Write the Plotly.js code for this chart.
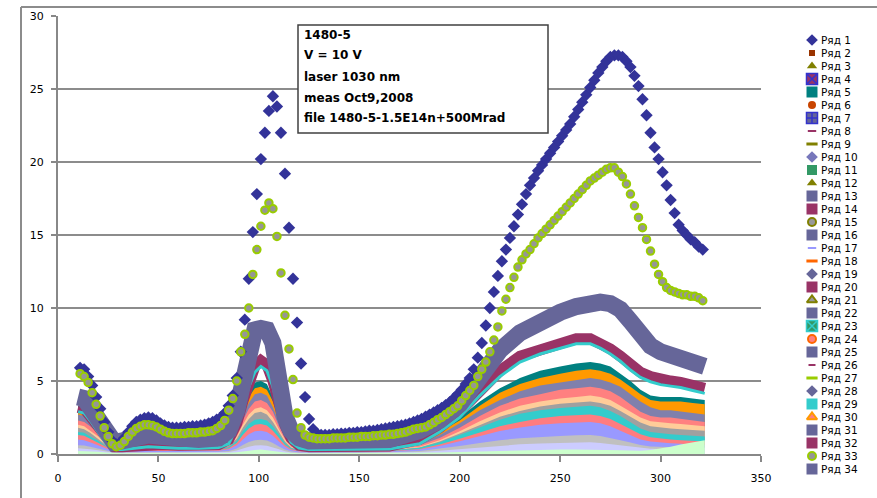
<!DOCTYPE html>
<html><head><meta charset="utf-8">
<script src="https://cdn.plot.ly/plotly-3.0.1.min.js"></script>
<style>html,body{margin:0;padding:0;background:#fff}#chart{width:877px;height:498px}</style>
</head><body><div id="chart"></div>
<script>
// ---------- dense series (markers) ----------
const xDense = [
 11,13,15,17,19,21,23,25,27,29,
 31,33,35,37,39,41,43,45,47,49,
 51,53,55,57,59,61,63,65,67,69,
 71,73,75,77,79,81,83,85,87,89,
 91,93,95,97,99,101,103,105,107,109,
 111,113,115,117,119,121,123,125,127,129,
 131,133,135,137,139,141,143,145,147,149,
 151,153,155,157,159,161,163,165,167,169,
 171,173,175,177,179,181,183,185,187,189,
 191,193,195,197,199,201,203,205,207,209,
 211,213,215,217,219,221,223,225,227,229,
 231,233,235,237,239,241,243,245,247,249,
 251,253,255,257,259,261,263,265,267,269,
 271,273,275,277,279,281,283,285,287,289,
 291,293,295,297,299,301,303,305,307,309,
 311,313,315,317,319,321];
const ryad1 = [
 5.9,5.8,5.3,4.7,3.9,3.1,2.2,1.5,0.9,0.65,
 0.8,1.1,1.5,1.9,2.2,2.35,2.45,2.5,2.45,2.3,
 2.1,1.95,1.85,1.8,1.8,1.8,1.85,1.85,1.9,1.9,
 1.95,2.0,2.1,2.2,2.35,2.5,2.8,3.3,4.0,5.2,
 7.0,9.2,12.0,15.2,17.8,20.2,22.0,23.5,24.5,23.8,
 22.0,19.2,15.5,12.0,9.0,6.2,3.9,2.4,1.7,1.4,
 1.3,1.3,1.3,1.35,1.35,1.4,1.4,1.45,1.45,1.5,
 1.5,1.55,1.6,1.6,1.65,1.7,1.75,1.8,1.85,1.9,
 1.95,2.0,2.1,2.2,2.3,2.4,2.55,2.7,2.85,3.0,
 3.15,3.35,3.55,3.8,4.1,4.4,4.8,5.2,5.8,6.6,
 7.6,8.8,10.0,11.1,12.2,13.2,14.0,14.8,15.6,16.4,
 17.1,17.8,18.4,18.9,19.4,19.8,20.2,20.6,21.0,21.4,
 21.8,22.2,22.6,23.1,23.6,24.1,24.6,25.1,25.6,26.1,
 26.5,26.9,27.2,27.3,27.3,27.2,26.9,26.5,25.9,25.2,
 24.3,23.2,22.0,21.0,20.2,19.3,18.4,17.4,16.5,15.7,
 15.3,15.0,14.7,14.5,14.2,14.0];
const ryad33 = [
 5.5,5.3,4.9,4.2,3.4,2.6,1.8,1.2,0.7,0.5,
 0.6,0.85,1.2,1.5,1.75,1.9,2.0,2.0,1.95,1.85,
 1.7,1.55,1.45,1.4,1.4,1.4,1.4,1.45,1.45,1.45,
 1.5,1.5,1.55,1.6,1.75,1.95,2.3,3.0,3.8,5.0,
 7.0,8.2,10.0,12.3,14.0,15.6,16.7,17.2,16.8,14.9,
 12.4,9.5,7.2,5.1,2.8,1.8,1.3,1.15,1.1,1.05,
 1.05,1.05,1.05,1.1,1.1,1.1,1.1,1.15,1.15,1.15,
 1.2,1.2,1.2,1.25,1.25,1.3,1.3,1.35,1.35,1.4,
 1.45,1.5,1.6,1.7,1.75,1.8,1.85,2.0,2.15,2.35,
 2.5,2.7,2.9,3.1,3.3,3.65,4.0,4.35,4.7,5.3,
 5.8,6.3,7.0,7.8,8.7,9.8,10.6,11.4,12.1,12.8,
 13.3,13.7,14.0,14.4,14.8,15.1,15.4,15.7,16.0,16.3,
 16.6,16.9,17.2,17.5,17.8,18.1,18.4,18.7,18.9,19.1,
 19.3,19.5,19.6,19.6,19.3,19.0,18.5,17.8,17.0,16.2,
 15.5,14.7,13.9,13.0,12.3,11.8,11.4,11.2,11.1,11.0,
 10.9,10.9,10.8,10.8,10.7,10.5];

// ---------- band series (coarse) ----------
const xBand = [10,13,16,20,24,28,32,38,45,52,
 60,70,80,85,89,92,95,98,101,104,
 107,110,113,116,120,125,135,150,165,180,
 190,200,210,220,230,240,250,258,265,270,
 275,280,285,290,295,300,305,310,316,322];
const ryad34 = [3.9,3.8,3.2,2.3,1.4,0.8,0.9,1.1,1.3,1.2,
 1.0,1.0,1.1,1.6,3.0,5.4,7.6,8.5,8.6,8.5,
 7.6,4.6,2.6,1.6,1.1,0.9,0.9,0.9,1.0,1.6,
 2.3,3.4,5.4,7.1,8.3,9.1,9.7,10.1,10.4,10.4,
 10.3,9.9,9.1,8.1,7.4,7.0,6.8,6.7,6.5,6.0];
const ryad32 = [3.2,3.1,2.6,1.8,1.0,0.5,0.5,0.6,0.7,0.65,
 0.6,0.6,0.65,1.0,2.1,3.6,5.0,6.0,6.4,6.1,
 5.0,3.4,2.0,1.1,0.6,0.5,0.5,0.5,0.55,1.0,
 1.8,2.9,4.4,5.7,6.7,7.2,7.6,7.9,7.9,7.6,
 7.2,6.7,6.1,5.6,5.3,5.1,5.0,4.9,4.7,4.5];
const ryad29 = [2.9,2.8,2.3,1.5,0.7,0.3,0.3,0.4,0.5,0.45,
 0.4,0.4,0.45,0.7,1.8,3.2,4.6,5.6,6.0,5.7,
 4.6,3.0,1.6,0.8,0.4,0.3,0.3,0.3,0.35,0.7,
 1.5,2.5,4.0,5.3,6.3,6.85,7.25,7.55,7.55,7.25,
 6.85,6.35,5.75,5.25,4.95,4.75,4.65,4.55,4.35,4.15];
const ryad5 = [3.3,3.2,2.6,1.9,1.1,0.5,0.5,0.6,0.8,0.7,
 0.6,0.6,0.7,0.9,1.9,3.2,4.3,4.9,5.0,4.8,
 3.9,2.6,1.5,0.8,0.5,0.4,0.4,0.4,0.5,0.9,
 1.6,2.5,3.6,4.5,5.2,5.7,6.0,6.2,6.3,6.2,
 6.0,5.5,5.0,4.4,4.0,3.9,3.9,3.9,3.8,3.7];
const ryad30 = [3.0,2.9,2.4,1.7,1.0,0.5,0.5,0.6,0.7,0.6,
 0.6,0.6,0.6,0.9,1.7,2.9,3.9,4.5,4.6,4.4,
 3.6,2.4,1.4,0.8,0.5,0.4,0.4,0.4,0.5,0.8,
 1.5,2.3,3.3,4.2,4.8,5.2,5.5,5.7,5.8,5.7,
 5.5,5.1,4.6,4.1,3.7,3.6,3.6,3.6,3.5,3.4];
const ryad28 = [2.7,2.6,2.2,1.6,0.9,0.4,0.4,0.5,0.6,0.6,
 0.5,0.5,0.6,0.8,1.6,2.6,3.5,4.1,4.2,4.0,
 3.2,2.2,1.2,0.7,0.4,0.4,0.4,0.4,0.4,0.7,
 1.3,2.1,3.0,3.7,4.3,4.7,4.9,5.1,5.2,5.1,
 4.9,4.6,4.1,3.6,3.2,3.0,3.0,2.9,2.8,2.7];
const ryad24 = [2.3,2.2,1.9,1.4,0.8,0.35,0.35,0.45,0.5,0.45,
 0.4,0.4,0.45,0.7,1.4,2.3,3.1,3.6,3.7,3.5,
 2.9,1.9,1.1,0.6,0.35,0.3,0.3,0.3,0.35,0.6,
 1.1,1.8,2.6,3.3,3.8,4.1,4.4,4.5,4.6,4.5,
 4.3,3.9,3.4,2.9,2.6,2.5,2.5,2.4,2.3,2.2];
const ryad18 = [2.0,1.9,1.6,1.2,0.7,0.3,0.3,0.4,0.45,0.4,
 0.35,0.35,0.4,0.6,1.2,2.0,2.7,3.1,3.2,3.0,
 2.5,1.7,1.0,0.5,0.3,0.25,0.25,0.25,0.3,0.5,
 0.95,1.55,2.25,2.85,3.3,3.6,3.8,3.9,4.0,3.9,
 3.7,3.3,2.9,2.5,2.25,2.15,2.1,2.05,2.0,1.9];
const ryad15 = [1.8,1.7,1.45,1.05,0.6,0.28,0.28,0.35,0.4,0.35,
 0.32,0.32,0.35,0.55,1.05,1.8,2.4,2.8,2.9,2.7,
 2.2,1.5,0.85,0.45,0.28,0.22,0.22,0.22,0.26,0.45,
 0.85,1.4,2.0,2.55,2.95,3.25,3.45,3.55,3.6,3.5,
 3.3,2.95,2.55,2.15,1.9,1.8,1.75,1.7,1.65,1.6];
const ryad11 = [1.5,1.45,1.2,0.9,0.5,0.25,0.25,0.3,0.35,0.3,
 0.28,0.28,0.3,0.45,0.9,1.55,2.05,2.35,2.4,2.3,
 1.9,1.3,0.75,0.4,0.25,0.2,0.2,0.2,0.24,0.42,
 0.8,1.3,1.85,2.35,2.75,3.0,3.15,3.25,3.3,3.2,
 2.95,2.6,2.15,1.75,1.5,1.4,1.35,1.3,1.25,1.2];
const ryad20 = [1.3,1.25,1.05,0.75,0.45,0.2,0.2,0.25,0.3,0.27,
 0.25,0.25,0.27,0.4,0.75,1.3,1.75,2.0,2.05,1.95,
 1.6,1.1,0.62,0.35,0.2,0.17,0.17,0.17,0.2,0.35,
 0.65,1.05,1.5,1.9,2.2,2.45,2.6,2.65,2.7,2.6,
 2.4,2.05,1.7,1.35,1.15,1.05,1.0,0.95,0.9,0.85];
const ryad10 = [1.0,0.95,0.8,0.6,0.35,0.17,0.17,0.2,0.22,0.2,
 0.2,0.2,0.22,0.32,0.6,1.0,1.35,1.55,1.6,1.5,
 1.25,0.85,0.5,0.28,0.17,0.14,0.14,0.14,0.17,0.3,
 0.55,0.88,1.25,1.58,1.82,2.0,2.1,2.16,2.2,2.1,
 1.9,1.6,1.3,1.0,0.85,0.78,0.74,0.7,0.66,0.62];
const ryad21 = [0.6,0.58,0.5,0.38,0.24,0.12,0.12,0.14,0.15,0.14,
 0.14,0.14,0.15,0.2,0.38,0.62,0.82,0.95,0.98,0.92,
 0.76,0.52,0.3,0.18,0.11,0.1,0.1,0.1,0.12,0.2,
 0.35,0.55,0.76,0.95,1.08,1.18,1.24,1.28,1.3,1.24,
 1.12,0.95,0.78,0.62,0.52,0.48,0.46,0.44,0.42,0.4];
const ryad17 = [0.4,0.38,0.32,0.25,0.16,0.08,0.08,0.1,0.1,0.1,
 0.1,0.1,0.1,0.13,0.24,0.38,0.5,0.58,0.6,0.56,
 0.46,0.32,0.18,0.11,0.08,0.07,0.07,0.07,0.08,0.13,
 0.22,0.34,0.47,0.58,0.66,0.72,0.76,0.78,0.8,0.76,
 0.68,0.58,0.48,0.4,0.36,0.34,0.34,0.36,0.4,0.45];
const ryad26 = [0.2,0.2,0.18,0.15,0.1,0.05,0.05,0.06,0.06,0.06,
 0.06,0.06,0.06,0.08,0.12,0.18,0.24,0.28,0.3,0.27,
 0.22,0.16,0.1,0.07,0.05,0.05,0.05,0.05,0.05,0.07,
 0.1,0.14,0.18,0.22,0.26,0.28,0.3,0.3,0.3,0.3,
 0.28,0.26,0.24,0.22,0.28,0.38,0.5,0.65,0.8,0.95];

// ---------- ticks, legend, note ----------
const xTickVals = [0,50,100,150,200,250,300,350];
const yTickVals = [0,5,10,15,20,25,30];
const legendNames = ['Ряд 1','Ряд 2','Ряд 3','Ряд 4','Ряд 5','Ряд 6','Ряд 7','Ряд 8','Ряд 9','Ряд 10',
 'Ряд 11','Ряд 12','Ряд 13','Ряд 14','Ряд 15','Ряд 16','Ряд 17','Ряд 18','Ряд 19','Ряд 20',
 'Ряд 21','Ряд 22','Ряд 23','Ряд 24','Ряд 25','Ряд 26','Ряд 27','Ряд 28','Ряд 29','Ряд 30',
 'Ряд 31','Ряд 32','Ряд 33','Ряд 34'];
const noteLines = ['1480-5','V = 10 V','laser 1030 nm','meas Oct9,2008','file 1480-5-1.5E14n+500Mrad'];

// ---------- styles ----------
const legendSymbols = ['diamond','square','triangle-up','square-x','square','circle','square-cross','line-ew','line-ew','diamond',
 'square','triangle-up','square','square','circle','square','line-ew','line-ew','diamond','square',
 'triangle-up','square','square-x','circle','square','line-ew','line-ew','diamond','square','triangle-up',
 'square','square','circle','square'];
const legendFill = ['#333399','#993300','#808000','#993366','#008080','#C84400','#666699','#993366','#808000','#7777BB',
 '#339966','#808000','#666699','#993366','#999999','#666699','#9999FF','#FF6600','#666699','#993366',
 '#999999','#666699','#339966','#FF8080','#666699','#993366','#99CC00','#666699','#33CCCC','#FF8080',
 '#666699','#993366','#969696','#666699'];
const legendLine = ['#333399','#993300','#808000','#3333CC','#008080','#C84400','#3333CC','#993366','#808000','#7777BB',
 '#339966','#808000','#666699','#993366','#808000','#666699','#9999FF','#FF6600','#666699','#993366',
 '#808000','#666699','#33CCCC','#FF6600','#666699','#993366','#99CC00','#666699','#33CCCC','#FF9900',
 '#666699','#993366','#99CC00','#666699'];
const legendLineW = [0,0,0,1.5,0,0,1.5,2,3,0, 0,0,0,0,2,0,2,3,0,0, 2,0,1.5,2,0,2,3,0,0,2, 0,0,2,0];
const legendSize = [9,6,9,11,11,8,11,6,8,9, 10,9,11,11,8,11,6,8,9,11, 9,11,11,8,11,5,8,9,11,9, 11,11,8,11];

// ---------- geometry (pixels of the 877x498 figure) ----------
const W = 877, H = 498;
const PL = 58, PR = 761, PT = 16, PB = 454;   // main plot area
const LX0 = 775;                               // legend strip start
const paperW = W - PL;
const px2paper = p => (p - PL) / paperW;
const py2paper = p => (H - p) / H;

const fillLayers = [
 {y: ryad5,  c:'#008080'}, {y: ryad30, c:'#FF9900'}, {y: ryad28, c:'#8080AC'},
 {y: ryad24, c:'#FF8080'}, {y: ryad18, c:'#FFCC99'}, {y: ryad15, c:'#A0A0A0'},
 {y: ryad11, c:'#33CCCC'}, {y: ryad20, c:'#FF7C80'}, {y: ryad10, c:'#9999FF'},
 {y: ryad21, c:'#C0C0C0'}, {y: ryad17, c:'#CCCCFF'}, {y: ryad26, c:'#CCFFCC'}
];

const traces = [];
fillLayers.forEach(L => traces.push({x: xBand, y: L.y, type:'scatter', mode:'lines', fill:'tozeroy',
  fillcolor: L.c, line:{width:0, color:L.c}, hoverinfo:'skip'}));
traces.push({x: xBand, y: ryad32, type:'scatter', mode:'lines', line:{color:'#993366', width:11}, hoverinfo:'skip'});
traces.push({x: xBand, y: ryad29, type:'scatter', mode:'lines', line:{color:'#33CCCC', width:3}, hoverinfo:'skip'});
traces.push({x: xBand, y: ryad34, type:'scatter', mode:'lines', line:{color:'#666699', width:17}, hoverinfo:'skip'});
traces.push({x: xDense, y: ryad1, type:'scatter', mode:'markers', name:'Ряд 1',
  marker:{symbol:'diamond', size:9.5, color:'#333399', opacity:1, line:{width:0}}});
traces.push({x: xDense, y: ryad33, type:'scatter', mode:'markers', name:'Ряд 33',
  marker:{symbol:'circle', size:7.5, color:'#969696', opacity:1, line:{width:2, color:'#99CC00'}}});

// legend symbols on a separate pixel-based strip to the right of the plot
const legendRowPx = legendNames.map((_, i) => 40 + 13 * i);
traces.push({x: legendNames.map(() => 812), y: legendRowPx, xaxis:'x2', yaxis:'y2', type:'scatter', mode:'markers',
  hoverinfo:'skip',
  marker:{symbol: legendSymbols, color: legendFill, size: legendSize, opacity:1,
          line:{color: legendLine, width: legendLineW}}});

const annotations = [];
legendNames.forEach((t, i) => annotations.push({xref:'paper', yref:'paper', x:px2paper(819), y:py2paper(legendRowPx[i]),
  text:t, showarrow:false, xanchor:'left', yanchor:'middle',
  font:{family:'DejaVu Sans', size:10.5, color:'#000'}}));
const noteY = [35, 55, 77, 98, 118];
noteLines.forEach((t, i) => annotations.push({xref:'paper', yref:'paper', x:px2paper(302), y:py2paper(noteY[i]),
  text:t, showarrow:false, xanchor:'left', yanchor:'middle',
  font:{family:'DejaVu Sans', size:12, color:'#000', weight:'bold'}}));

const layout = {
  width: W, height: H, margin:{l:PL, r:0, t:0, b:0, pad:0},
  paper_bgcolor:'#fff', plot_bgcolor:'rgba(0,0,0,0)', showlegend:false,
  xaxis:{domain:[0, (PR - PL) / paperW], range:[0,350], tickvals: xTickVals, ticks:'outside', ticklen:6, tickwidth:1.5,
    tickcolor:'#888', showline:true, linecolor:'#888', linewidth:2, showgrid:false, zeroline:false,
    tickfont:{family:'DejaVu Sans', size:11, color:'#000'}, ticklabelstandoff:7, anchor:'y', fixedrange:true},
  yaxis:{domain:[(H - PB) / H, (H - PT) / H], range:[0,30], tickvals: yTickVals, ticks:'outside', ticklen:5, tickwidth:1.5,
    tickcolor:'#888', showline:true, linecolor:'#888', linewidth:2, showgrid:true, gridcolor:'#8c8c8c', gridwidth:1.5,
    zeroline:false, tickfont:{family:'DejaVu Sans', size:11, color:'#000'}, ticklabelstandoff:5, anchor:'x', fixedrange:true},
  xaxis2:{domain:[px2paper(LX0), 1], range:[LX0, W], visible:false, anchor:'y2', fixedrange:true},
  yaxis2:{domain:[0, 1], range:[H, 0], visible:false, anchor:'x2', fixedrange:true},
  shapes:[
    {type:'line', xref:'paper', yref:'paper', x0:px2paper(21), x1:px2paper(21), y0:py2paper(7), y1:py2paper(498),
      line:{color:'#8c8c8c', width:2}},
    {type:'line', xref:'paper', yref:'paper', x0:px2paper(21), x1:px2paper(877), y0:py2paper(7), y1:py2paper(7),
      line:{color:'#8c8c8c', width:2}},
    {type:'rect', xref:'paper', yref:'paper', x0:px2paper(298), x1:px2paper(548), y0:py2paper(25), y1:py2paper(133),
      fillcolor:'#fff', layer:'above', line:{color:'#404040', width:1.5}}
  ],
  annotations: annotations
};
Plotly.newPlot('chart', traces, layout, {displayModeBar:false});
</script></body></html>
